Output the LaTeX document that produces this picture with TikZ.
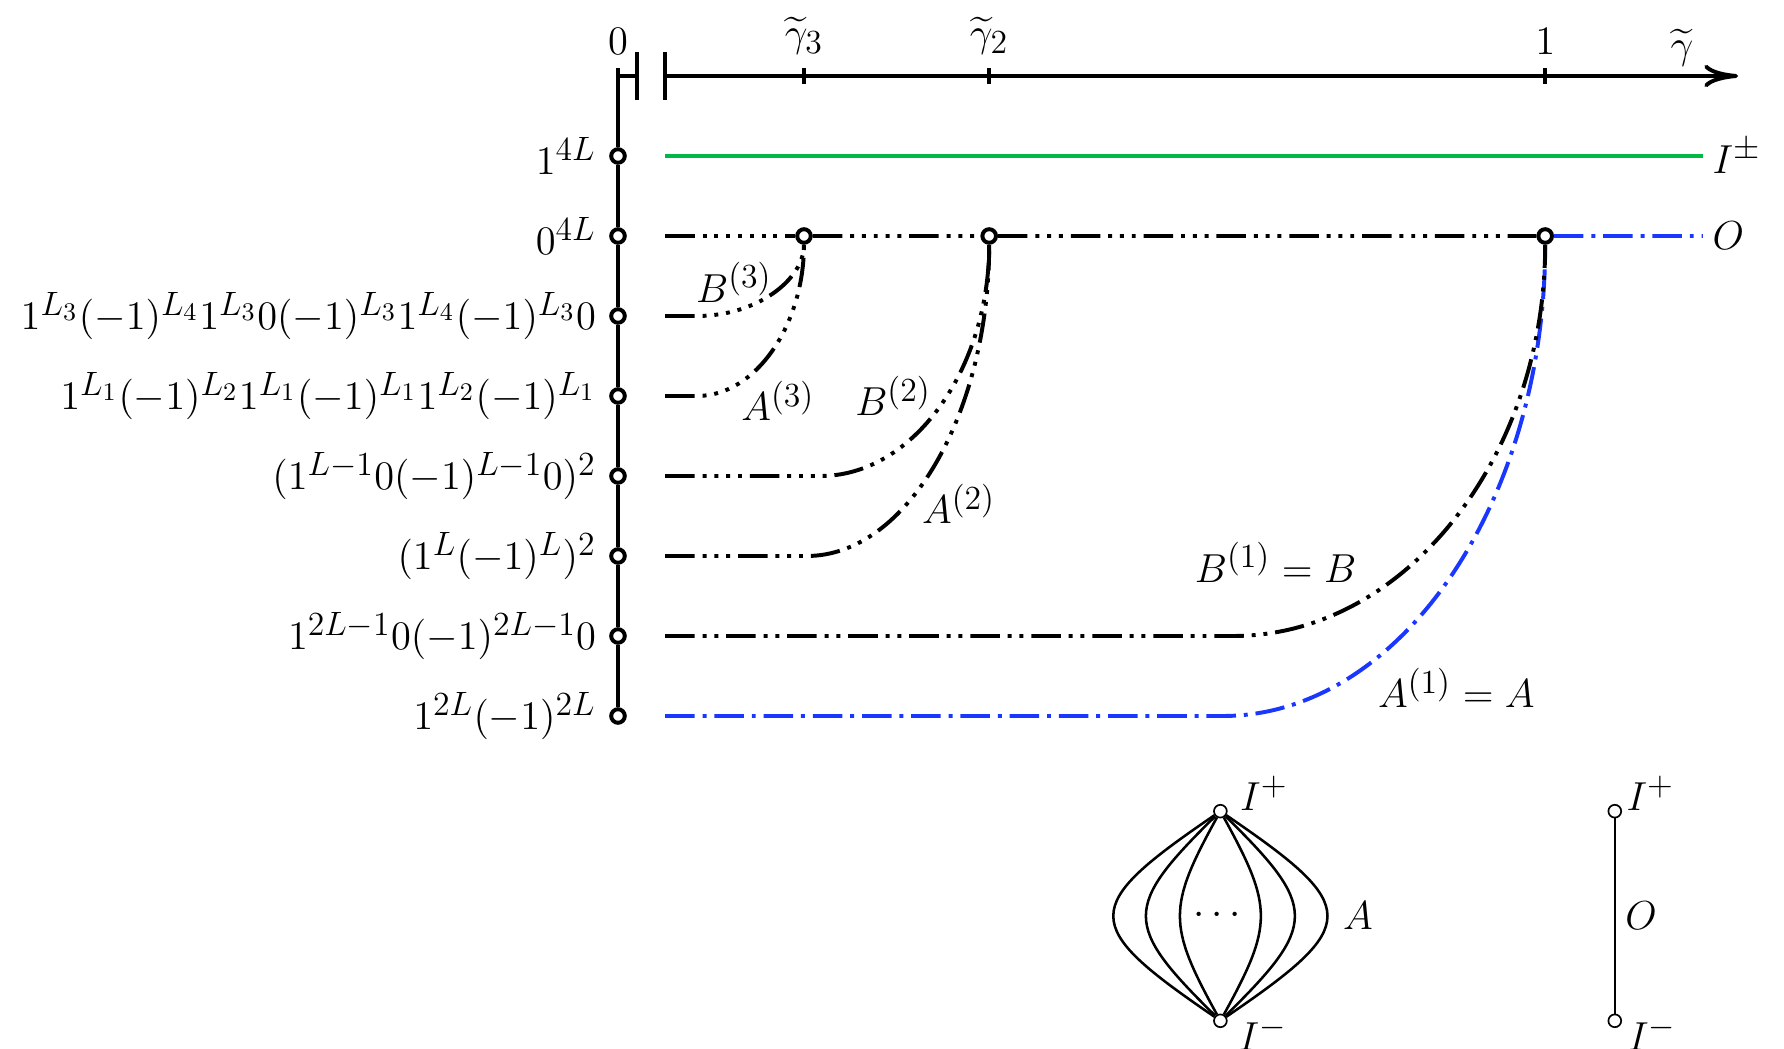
\documentclass[tikz,border=0pt]{standalone}
\usepackage{amsmath}
\usetikzlibrary{arrows.meta,calc}
\DeclareMathSizes{15.3}{15.3}{11.9}{8.8}

\definecolor{verdeI}{RGB}{0,185,70}
\definecolor{azulA}{RGB}{25,55,255}

% Patrones: un trazo largo seguido de n puntos
\tikzset{
  fase1/.style={dash pattern=on 10.5pt off 2.8pt on 1.4pt off 2.8pt},
  fase2/.style={dash pattern=on 10.5pt off 2.8pt on 1.4pt off 2.8pt on 1.4pt off 2.8pt},
  fase3/.style={dash pattern=on 10.5pt off 2.8pt on 1.4pt off 2.8pt on 1.4pt off 2.8pt on 1.4pt off 2.8pt},
  fase4/.style={dash pattern=on 10.5pt off 2.8pt on 1.4pt off 2.8pt on 1.4pt off 2.8pt on 1.4pt off 2.8pt on 1.4pt off 2.8pt},
  fase5/.style={dash pattern=on 10.5pt off 2.8pt on 1.4pt off 2.8pt on 1.4pt off 2.8pt on 1.4pt off 2.8pt on 1.4pt off 2.8pt on 1.4pt off 2.8pt},
  fase6/.style={dash pattern=on 10.5pt off 2.8pt on 1.4pt off 2.8pt on 1.4pt off 2.8pt on 1.4pt off 2.8pt on 1.4pt off 2.8pt on 1.4pt off 2.8pt on 1.4pt off 2.8pt},
  fase7/.style={dash pattern=on 10.5pt off 2.8pt on 1.4pt off 2.8pt on 1.4pt off 2.8pt on 1.4pt off 2.8pt on 1.4pt off 2.8pt on 1.4pt off 2.8pt on 1.4pt off 2.8pt on 1.4pt off 2.8pt}
}

\begin{document}
\begin{tikzpicture}[
    font=\fontsize{15.3}{18.4}\selectfont,
    eje/.style={line width=1.4pt},
    rama/.style={line width=1.4pt},
    punto/.style={circle, draw, fill=white, line width=1.4pt, inner sep=0pt, minimum size=0.17cm},
    puntito/.style={circle, draw, fill=white, line width=0.6pt, inner sep=0pt, minimum size=0.16cm},
    lente/.style={line width=0.9pt}
  ]

    % --- Parámetros ---
    \def\xIni{0.59}   % inicio de las ramas
    \def\gT{2.325}    % gamma_3
    \def\gD{4.64}     % gamma_2
    \def\gU{11.59}    % gamma = 1
    \def\xFin{13.56}  % final de las ramas

    \useasboundingbox (-7.725,-12.16) rectangle (14.575,0.95);

    % --- Estados sobre el eje vertical ---
    \foreach \i/\etiq in {1/{1^{4L}}, 2/{0^{4L}},
        3/{1^{L_3}(-1)^{L_4}1^{L_3}0(-1)^{L_3}1^{L_4}(-1)^{L_3}0},
        4/{1^{L_1}(-1)^{L_2}1^{L_1}(-1)^{L_1}1^{L_2}(-1)^{L_1}},
        5/{(1^{L-1}0(-1)^{L-1}0)^2}, 6/{(1^L(-1)^L)^2},
        7/{1^{2L-1}0(-1)^{2L-1}0}, 8/{1^{2L}(-1)^{2L}}} {
      \node[punto] (r\i) at (0,-\i) {};
      \node[left] (e\i) at (-0.15,-\i) {$\etiq$};
    }

    % --- Ejes ---
    \coordinate (origen) at (0,0);
    \coordinate (arriba) at (0,0.1);
    \coordinate (corte1) at (0.24,0);
    \coordinate (corte2) at (\xIni,0);
    \coordinate (punta) at (14,0);

    \draw[eje] (arriba) -- (r1) -- (r2) -- (r3) -- (r4) -- (r5) -- (r6) -- (r7) -- (r8);
    \draw[eje] (origen) -- (corte1);
    \draw[eje] ($(corte1)+(0,0.3)$) -- ($(corte1)+(0,-0.3)$);
    \draw[eje] ($(corte2)+(0,0.3)$) -- ($(corte2)+(0,-0.3)$);
    \draw[eje, -{To[length=12pt,width=8pt]}] (corte2) -- (punta);

    \node[above] (l0) at (0,0.15) {$0$};
    \foreach \x/\n/\etiq in {\gT/t3/{\widetilde{\gamma}_3}, \gD/t2/{\widetilde{\gamma}_2}, \gU/t1/1} {
      \draw[eje] (\x,0.1) -- (\x,-0.1);
      \node[above] (\n) at (\x,0.15) {$\etiq$};
    }
    \node[above] (lgam) at (13.3,0) {$\widetilde{\gamma}$};

    % --- Puntos de fusión ---
    \node[punto] (g3) at (\gT,-2) {};
    \node[punto] (g2) at (\gD,-2) {};
    \node[punto] (g1) at (\gU,-2) {};

    % --- Ramas ---
    \coordinate (s1) at (\xIni,-1);
    \coordinate (f1) at (\xFin,-1);
    \draw[rama, verdeI] (s1) -- (f1);
    \node[right] (lIpm) at (f1) {$I^{\pm}$};

    \coordinate (s2) at (\xIni,-2);
    \draw[rama, fase7] (s2) -- (g3);

    \coordinate (s3) at (\xIni,-3);
    \coordinate (b3) at (0.99,-3);
    \draw[rama, fase6] (s3) -- (b3) .. controls +(0.737,0) and +(0,-0.552) .. (g3);

    \coordinate (s4) at (\xIni,-4);
    \coordinate (a3) at (0.99,-4);
    \draw[rama, fase5] (s4) -- (a3) .. controls +(0.737,0) and +(0,-1.105) .. (g3) -- (g2);

    \coordinate (s5) at (\xIni,-5);
    \coordinate (b2) at (2.53,-5);
    \draw[rama, fase4] (s5) -- (b2) .. controls +(1.165,0) and +(0,-1.657) .. (g2);

    \coordinate (s6) at (\xIni,-6);
    \coordinate (a2) at (2.36,-6);
    \draw[rama, fase3] (s6) -- (a2) .. controls +(1.259,0) and +(0,-2.209) .. (g2) -- (g1);

    \coordinate (s8) at (\xIni,-8);
    \coordinate (a1) at (7.56,-8);
    \coordinate (f2) at (\xFin,-2);
    \draw[rama, fase1, azulA] (s8) -- (a1) .. controls +(2.226,0) and +(0,-3.314) .. (g1) -- (f2);
    \node[right] (lO) at (f2) {$O$};

    \coordinate (s7) at (\xIni,-7);
    \coordinate (b1) at (7.69,-7);
    \draw[rama, fase2] (s7) -- (b1) .. controls +(2.154,0) and +(0,-2.762) .. (g1);

    % Etiquetas de las ramas
    \node (lB3) at (1.45,-2.58) {$B^{(3)}$};
    \node (lA3) at (2.0,-4.06) {$A^{(3)}$};
    \node (lB2) at (3.44,-4.0) {$B^{(2)}$};
    \node (lA2) at (4.26,-5.35) {$A^{(2)}$};
    \node (lB1) at (8.22,-6.08) {$B^{(1)}=B$};
    \node (lA1) at (10.48,-7.65) {$A^{(1)}=A$};

    % --- Esquema de A ---
    \node[puntito] (Ip) at (7.53,-9.19) {};
    \node[puntito] (Im) at (7.53,-11.81) {};
    \foreach \c in {0.66,1.22,1.76} {
      \draw[lente] (Ip) .. controls +(-\c,-1.2) and +(-\c,1.2) .. (Im);
      \draw[lente] (Ip) .. controls +(\c,-1.2) and +(\c,1.2) .. (Im);
    }
    \node (puntos) at ($(Ip)!0.5!(Im)$) {$\cdots$};
    \node[anchor=south west, inner sep=0pt] (lIp) at ($(Ip)+(0.24,0)$) {$I^+$};
    \node[anchor=north west, inner sep=0pt] (lIm) at ($(Im)+(0.22,0.06)$) {$I^-$};
    \node[anchor=west] (lA) at ($(Ip)!0.5!(Im)+(1.41,0)$) {$A$};

    % --- Esquema de O ---
    \node[puntito] (Jp) at (12.46,-9.19) {};
    \node[puntito] (Jm) at (12.46,-11.81) {};
    \draw[lente] (Jp) -- (Jm) node[midway, right] (lOb) {$O$};
    \node[anchor=south west, inner sep=0pt] (lJp) at ($(Jp)+(0.14,0)$) {$I^+$};
    \node[anchor=north west, inner sep=0pt] (lJm) at ($(Jm)+(0.16,0.06)$) {$I^-$};

\end{tikzpicture}
\end{document}
